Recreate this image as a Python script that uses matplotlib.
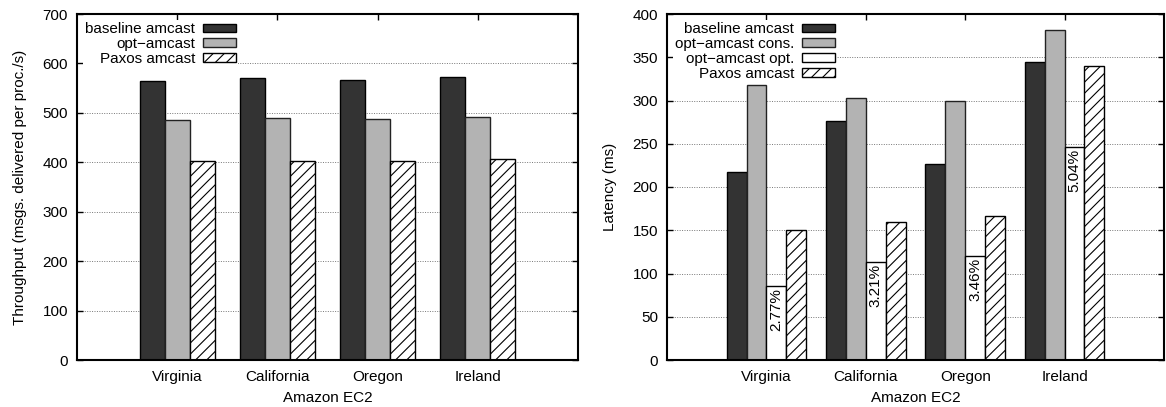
import matplotlib
matplotlib.use("Agg")
import matplotlib.pyplot as plt
import numpy as np

plt.rcParams['font.family'] = ['Liberation Sans', 'DejaVu Sans']
plt.rcParams['hatch.linewidth'] = 0.8

regions = ["Virginia", "California", "Oregon", "Ireland"]

# Throughput panel
tp_baseline = [565, 570, 566, 572]
tp_opt = [486, 490, 488, 492]
tp_paxos = [403, 403, 402, 407]
tp_labels = ["baseline amcast", "opt\u2212amcast", "Paxos amcast"]

# Latency panel
lat_baseline = [217, 276, 227, 344]
lat_opt_cons = [318, 303, 300, 381]
lat_opt_opt = [85, 113, 120, 246]
lat_paxos = [150, 159, 166, 340]
lat_pct = ["2.77%", "3.21%", "3.46%", "5.04%"]
lat_labels = ["baseline amcast", "opt\u2212amcast cons.", "opt\u2212amcast opt.", "Paxos amcast"]

FS = 11
W, H = 1166, 407
fig = plt.figure(figsize=(W / 100, H / 100), dpi=100)
ax1 = fig.add_axes([77 / W, 47 / H, 501 / W, 346 / H])
ax2 = fig.add_axes([667 / W, 47 / H, 497 / W, 346 / H])

DARK = "#333333"
GREY = "#b3b3b3"
x = np.arange(len(regions))


def style_axes(ax, ymax, ystep, ylabel):
    ax.set_xlim(-1, 4)
    ax.set_ylim(0, ymax)
    ax.set_yticks(np.arange(0, ymax + 1, ystep))
    ax.set_xticks(x)
    ax.set_xticklabels(regions)
    ax.tick_params(direction="in", top=True, right=True, length=4, width=1,
                   labelsize=FS, pad=6.5)
    ax.tick_params(axis="x", pad=7)
    for s in ax.spines.values():
        s.set_linewidth(1.5)
    ax.yaxis.grid(True, linestyle=(0, (1, 1.5)), color="#777777", linewidth=0.7)
    ax.set_axisbelow(True)
    ax.set_ylabel(ylabel, fontsize=FS, labelpad=11)
    ax.set_xlabel("Amazon EC2", fontsize=FS, labelpad=5)


# Left panel
w = 0.25
ax1.bar(x - w, tp_baseline, w, facecolor=DARK, edgecolor="black", linewidth=1,
        label=tp_labels[0], zorder=2)
ax1.bar(x, tp_opt, w, facecolor=GREY, edgecolor="#222222", linewidth=1,
        label=tp_labels[1], zorder=2)
ax1.bar(x + w, tp_paxos, w, facecolor="white", edgecolor="black", hatch="///",
        linewidth=1, label=tp_labels[2], zorder=2)
style_axes(ax1, 700, 100, "Throughput (msgs. delivered per proc./s)")

# Right panel
w2 = 0.2
ax2.bar(x - 1.5 * w2, lat_baseline, w2, facecolor=DARK, edgecolor="black",
        linewidth=1, label=lat_labels[0], zorder=2)
ax2.bar(x - 0.5 * w2, lat_opt_cons, w2, facecolor=GREY, edgecolor="#222222",
        linewidth=1, label=lat_labels[1], zorder=2)
ax2.bar(x + 0.5 * w2, lat_opt_opt, w2, facecolor="white", edgecolor="black",
        linewidth=1, label=lat_labels[2], zorder=2)
ax2.bar(x + 1.5 * w2, lat_paxos, w2, facecolor="white", edgecolor="black",
        hatch="///", linewidth=1, label=lat_labels[3], zorder=2)
for xi, v, t in zip(x + 0.5 * w2, lat_opt_opt, lat_pct):
    ax2.annotate(t, (xi, v), xytext=(0, -1.5), textcoords="offset points",
                 rotation=90, ha="center", va="top", fontsize=FS, zorder=3)
style_axes(ax2, 400, 50, "Latency (ms)")

for ax in (ax1, ax2):
    leg = ax.legend(loc="upper left", markerfirst=False, frameon=True,
                    fontsize=FS, handlelength=2.15, handleheight=0.45,
                    labelspacing=0.06, handletextpad=0.52, borderpad=0.15,
                    borderaxespad=0.38, fancybox=False)
    leg.get_frame().set_edgecolor("none")
    leg.get_frame().set_facecolor("white")
    leg.get_frame().set_alpha(1)
    for t in leg.get_texts():
        t.set_ha("right")
    leg._legend_box.align = "right"
    leg.set_zorder(1.5)

fig.savefig("out.png", dpi=100)
